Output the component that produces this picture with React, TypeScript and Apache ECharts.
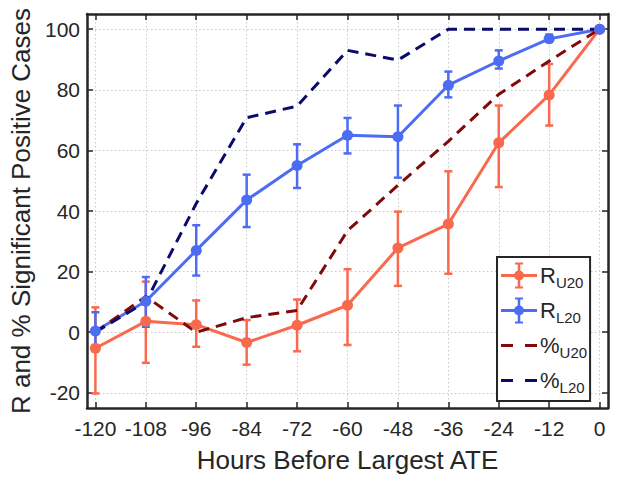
import React, { useEffect, useRef } from "react";
import * as echarts from "echarts";

// Hours before the largest ATE (x positions of every sample)
const hours = [-120, -108, -96, -84, -72, -60, -48, -36, -24, -12, 0];

// R for the upper-20 group with its error-bar limits
const rU20 = [-5.3, 3.6, 2.5, -3.4, 2.3, 8.9, 27.8, 35.7, 62.5, 78.3, 100];
const rU20Low = [-20.2, -10.1, -4.8, -10.7, -6.3, -4.2, 15.3, 19.3, 47.9, 68.2, 100];
const rU20High = [8.2, 16.7, 10.5, 4.0, 10.8, 20.8, 39.8, 53.1, 74.8, 88.5, 100];

// R for the lower-20 group with its error-bar limits
const rL20 = [0.4, 10.2, 27.0, 43.6, 55.0, 65.0, 64.5, 81.5, 89.5, 96.8, 100];
const rL20Low = [-4.6, 1.8, 18.7, 34.7, 47.6, 59.0, 51.0, 77.5, 87.0, 95.8, 100];
const rL20High = [6.6, 18.2, 35.3, 52.0, 62.0, 70.7, 74.8, 86.0, 93.0, 98.2, 100];

// Percentage of significant positive cases
const pctU20 = [0, 11.8, 0, 4.8, 7.2, 33.5, 48.5, 63.0, 78.5, 89.5, 100];
const pctL20 = [0, 10.0, 42.5, 70.8, 74.6, 93.0, 89.8, 100, 100, 100, 100];

// Tick values
const xTicks = [-120, -108, -96, -84, -72, -60, -48, -36, -24, -12, 0];
const yTicks = [-20, 0, 20, 40, 60, 80, 100];

const FONT = "'Liberation Sans', Arial, Helvetica, sans-serif";
const INK = "#262626";
const ORANGE = "#F9694D";
const BLUE = "#4C6CF4";
const DARKRED = "#800A0A";
const NAVY = "#0B0B6E";

// Legend glyphs (36 x 26 box): error bar with marker, and a two-dash line
const ERR_ICON =
  "path://M0 11.5H36V14.5H0Z M16.75 0H19.25V26H16.75Z M14 0H22V2H14Z M14 24H22V26H14Z " +
  "M13 13A5 5 0 1 1 23 13A5 5 0 1 1 13 13Z";
const DASH_ICON =
  "path://M0 0L0.01 0L0 0.01Z M36 26L35.99 26L36 25.99Z M0 11.5H12V14.5H0Z M24 11.5H36V14.5H24Z";

const legendText: Record<string, string> = {
  RU20: "{m|R}{s|U20}",
  RL20: "{m|R}{s|L20}",
  PU20: "{m|%}{s|U20}",
  PL20: "{m|%}{s|L20}",
};

function errorSeries(name: string, low: number[], high: number[], color: string) {
  return {
    type: "custom",
    name,
    data: hours.map((h, i) => [h, low[i], high[i]]),
    renderItem: (params: any, api: any) => {
      const x = api.value(0);
      const lo = api.coord([x, api.value(1)]);
      const hi = api.coord([x, api.value(2)]);
      const w = 4;
      const style = { stroke: color, lineWidth: 2.5 };
      return {
        type: "group",
        children: [
          { type: "line", shape: { x1: lo[0], y1: lo[1], x2: hi[0], y2: hi[1] }, style },
          { type: "line", shape: { x1: lo[0] - w, y1: lo[1], x2: lo[0] + w, y2: lo[1] }, style },
          { type: "line", shape: { x1: hi[0] - w, y1: hi[1], x2: hi[0] + w, y2: hi[1] }, style },
        ],
      };
    },
    silent: true,
  };
}

function frameAxis(extra: any) {
  return {
    type: "value",
    axisLine: { show: true, onZero: false, lineStyle: { color: INK, width: 2.5 } },
    ...extra,
  };
}

function ticks(values: number[]) {
  return {
    show: true, inside: true, length: 6, customValues: values,
    lineStyle: { color: INK, width: 1.5 },
  };
}

export default function App() {
  const ref = useRef<HTMLDivElement>(null);

  useEffect(() => {
    document.body.style.margin = "0";
    const chart = echarts.init(ref.current!, null, { renderer: "svg" });

    const gridLine = { show: true, lineStyle: { color: "#c8c8c8", width: 1, type: [1.5, 2.5] } };
    const tickLabel = { color: INK, fontSize: 21, fontFamily: FONT };
    const titleStyle = { color: INK, fontSize: 26, fontFamily: FONT };

    chart.setOption({
      animation: false,
      backgroundColor: "#ffffff",
      textStyle: { fontFamily: FONT },
      grid: { left: 87, right: 13, top: 14, bottom: 66 },
      xAxis: [
        frameAxis({
          min: -122,
          max: 2,
          position: "bottom",
          axisTick: ticks(xTicks),
          axisLabel: { ...tickLabel, margin: 10, customValues: xTicks },
          splitLine: gridLine,
          name: "Hours Before Largest ATE",
          nameLocation: "middle",
          nameGap: 39,
          nameTextStyle: titleStyle,
        }),
        frameAxis({
          min: -122,
          max: 2,
          position: "top",
          axisTick: ticks(xTicks),
          axisLabel: { show: false },
          splitLine: { show: false },
        }),
      ],
      yAxis: [
        frameAxis({
          min: -25,
          max: 105,
          position: "left",
          axisTick: ticks(yTicks),
          axisLabel: { ...tickLabel, margin: 7, customValues: yTicks },
          splitLine: gridLine,
          name: "R and % Significant Positive Cases",
          nameLocation: "middle",
          nameGap: 44,
          nameTextStyle: titleStyle,
        }),
        frameAxis({
          min: -25,
          max: 105,
          position: "right",
          axisTick: ticks(yTicks),
          axisLabel: { show: false },
          splitLine: { show: false },
        }),
      ],
      legend: {
        orient: "vertical",
        left: 497,
        top: 257,
        itemWidth: 36,
        itemHeight: 26,
        itemGap: 6,
        padding: [4, 3, 6, 4],
        backgroundColor: "#ffffff",
        borderColor: INK,
        borderWidth: 2,
        borderRadius: 0,
        selectedMode: false,
        formatter: (name: string) => legendText[name],
        textStyle: {
          color: INK,
          fontFamily: FONT,
          padding: [0, 0, 0, -2],
          rich: {
            m: { fontSize: 22, fontFamily: FONT, color: INK, lineHeight: 22 },
            s: { fontSize: 15, fontFamily: FONT, color: INK, lineHeight: 15, padding: [14, 0, 0, 0] },
          },
        },
        data: [
          { name: "RU20", icon: ERR_ICON, itemStyle: { color: ORANGE, borderWidth: 0 } },
          { name: "RL20", icon: ERR_ICON, itemStyle: { color: BLUE, borderWidth: 0 } },
          { name: "PU20", icon: DASH_ICON, itemStyle: { color: DARKRED, borderWidth: 0 } },
          { name: "PL20", icon: DASH_ICON, itemStyle: { color: NAVY, borderWidth: 0 } },
        ],
      },
      series: [
        errorSeries("errU20", rU20Low, rU20High, ORANGE),
        {
          type: "line",
          name: "RU20",
          data: hours.map((h, i) => [h, rU20[i]]),
          color: ORANGE,
          lineStyle: { width: 3, color: ORANGE },
          symbol: "circle",
          symbolSize: 11,
          itemStyle: { color: ORANGE },
        },
        errorSeries("errL20", rL20Low, rL20High, BLUE),
        {
          type: "line",
          name: "RL20",
          data: hours.map((h, i) => [h, rL20[i]]),
          color: BLUE,
          lineStyle: { width: 3, color: BLUE },
          symbol: "circle",
          symbolSize: 11,
          itemStyle: { color: BLUE },
        },
        {
          type: "line",
          name: "PU20",
          data: hours.map((h, i) => [h, pctU20[i]]),
          color: DARKRED,
          lineStyle: { width: 3, color: DARKRED, type: [11, 7] },
          symbol: "none",
        },
        {
          type: "line",
          name: "PL20",
          data: hours.map((h, i) => [h, pctL20[i]]),
          color: NAVY,
          lineStyle: { width: 3, color: NAVY, type: [11, 7] },
          symbol: "none",
        },
      ],
    });

    return () => chart.dispose();
  }, []);

  return <div ref={ref} style={{ width: 621, height: 478 }} />;
}
